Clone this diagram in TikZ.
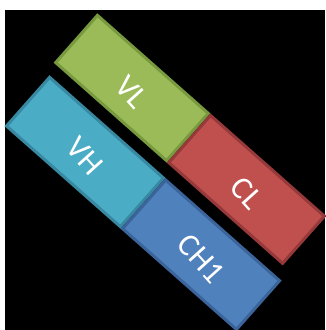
\documentclass[tikz,border=0pt]{standalone}
\usepackage{fontspec}
\setsansfont{Carlito}
\usepackage{tikz}
\usetikzlibrary{positioning}

\definecolor{vlgreen}{HTML}{9BBB59}
\definecolor{vlgreenD}{HTML}{789A3E}
\definecolor{clred}{HTML}{C0504D}
\definecolor{clredD}{HTML}{96393A}
\definecolor{vhcyan}{HTML}{4BACC6}
\definecolor{vhcyanD}{HTML}{3788A0}
\definecolor{chblue}{HTML}{4F81BD}
\definecolor{chblueD}{HTML}{3B649A}

\begin{document}
\begin{tikzpicture}[y=-1pt,x=1pt,
	block/.style={draw, line width=3pt, rotate=-41.5, inner sep=0pt,
		minimum width=148pt, minimum height=63pt},
	blocktext/.style={rotate=-48, inner sep=0pt, text=white,
		font=\sffamily\fontsize{32}{32}\selectfont}]
	\useasboundingbox (0,0) rectangle (325,330);
	\fill[white] (0,0) rectangle (325,330);
	\fill[black] (5,10) rectangle (325,330);

	% upper row
	\node[block, fill=vlgreen, draw=vlgreenD] (vl) at (132,88) {};
	\node[block, fill=clred, draw=clredD, minimum width=152pt, anchor=west] (cl) at (vl.east) {};

	% lower row
	\node[block, fill=vhcyan, draw=vhcyanD, minimum height=65pt, minimum width=152pt] (vh) at (85,152) {};
	\node[block, fill=chblue, draw=chblueD, minimum height=65pt, minimum width=152pt, anchor=west] (ch) at (vh.east) {};

	\node[blocktext] (vltext) at ([shift={(0,4)}]vl.center) {VL};
	\node[blocktext] (cltext) at ([shift={(0,4)}]cl.center) {CL};
	\node[blocktext] (vhtext) at ([shift={(0,4)}]vh.center) {VH};
	\node[blocktext] (chtext) at ([shift={(0,4)}]ch.center) {CH1};
\end{tikzpicture}
\end{document}
